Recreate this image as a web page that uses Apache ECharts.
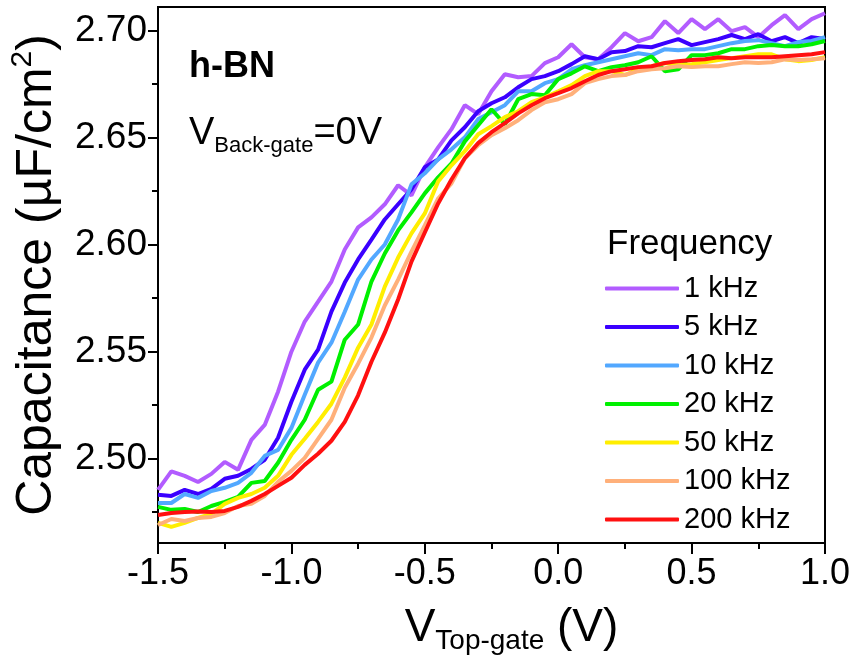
<!DOCTYPE html>
<html>
<head>
<meta charset="utf-8">
<script src="https://cdn.jsdelivr.net/npm/echarts@6/dist/echarts.min.js"></script>
<style>html,body{margin:0;padding:0;background:#fff}#chart{width:856px;height:671px}</style>
</head>
<body>
<div id="chart"></div>
<script>
// Top-gate voltage (V)
const vTop = [-1.5,-1.45,-1.4,-1.35,-1.3,-1.25,-1.2,-1.15,-1.1,-1.05,-1.0,-0.95,-0.9,-0.85,-0.8,-0.75,-0.7,-0.65,-0.6,-0.55,-0.5,-0.45,-0.4,-0.35,-0.3,-0.25,-0.2,-0.15,-0.1,-0.05,0,0.05,0.1,0.15,0.2,0.25,0.3,0.35,0.4,0.45,0.5,0.55,0.6,0.65,0.7,0.75,0.8,0.85,0.9,0.95,1.0];

// Capacitance (uF/cm2) per frequency
const c1k = [2.4853,2.494,2.4919,2.489,2.4928,2.4984,2.4947,2.5087,2.5157,2.5312,2.5499,2.5640,2.5733,2.5827,2.5977,2.6080,2.6127,2.6188,2.6277,2.6230,2.6361,2.6454,2.6539,2.6651,2.6609,2.6716,2.6796,2.6782,2.6787,2.6848,2.6875,2.6936,2.6875,2.6866,2.6922,2.6988,2.6950,2.6969,2.7044,2.6988,2.7053,2.7007,2.7053,2.6997,2.7016,2.6969,2.7025,2.7072,2.7007,2.7053,2.7081];
const c5k = [2.4830,2.4825,2.4853,2.4834,2.4858,2.4905,2.4919,2.4951,2.4994,2.5097,2.5265,2.5415,2.5509,2.5686,2.5822,2.5930,2.6023,2.6117,2.6188,2.6258,2.6361,2.6398,2.6487,2.6548,2.6623,2.6660,2.6688,2.6735,2.6773,2.6787,2.6810,2.6843,2.6880,2.6866,2.6899,2.6904,2.6927,2.6922,2.6941,2.6960,2.6932,2.6946,2.6960,2.6979,2.6960,2.6983,2.6950,2.6969,2.6941,2.6969,2.6960];
const c10k = [2.4792,2.4792,2.4834,2.4816,2.4848,2.4863,2.4886,2.4933,2.5012,2.5040,2.5143,2.5298,2.5448,2.5541,2.5686,2.5836,2.5930,2.6000,2.6117,2.6281,2.6333,2.6398,2.6445,2.6501,2.6586,2.6618,2.6651,2.6716,2.6716,2.6754,2.6773,2.6819,2.6838,2.6852,2.6866,2.6880,2.6894,2.6885,2.6913,2.6908,2.6913,2.6913,2.6927,2.6941,2.6951,2.6955,2.6941,2.6927,2.6946,2.6951,2.6969];
const c20k = [2.4774,2.4760,2.4764,2.4750,2.4778,2.4797,2.4820,2.4886,2.4895,2.4980,2.5087,2.5181,2.5321,2.5359,2.5555,2.5626,2.5827,2.5958,2.6066,2.6150,2.6239,2.6314,2.6379,2.6482,2.6557,2.6632,2.6562,2.6679,2.6703,2.6698,2.6773,2.6800,2.6833,2.6810,2.6829,2.6838,2.6852,2.6880,2.6810,2.6819,2.6885,2.6885,2.6894,2.6913,2.6913,2.6927,2.6932,2.6927,2.6927,2.6936,2.6951];
const c50k = [2.4699,2.4680,2.4699,2.4722,2.4741,2.4788,2.4816,2.4834,2.4863,2.4919,2.5017,2.5092,2.5171,2.5256,2.5378,2.5518,2.5626,2.5803,2.5939,2.6052,2.6145,2.6295,2.6370,2.6436,2.6515,2.6553,2.6595,2.6623,2.6665,2.6688,2.6716,2.6745,2.6787,2.6810,2.6810,2.6792,2.6819,2.6833,2.6848,2.6838,2.6843,2.6852,2.6862,2.6871,2.6880,2.6889,2.6889,2.6866,2.6857,2.6862,2.6875];
const c100k = [2.4689,2.4717,2.4708,2.4722,2.4727,2.4745,2.4778,2.4788,2.4825,2.4891,2.4942,2.5003,2.5092,2.5181,2.5331,2.5443,2.5565,2.5715,2.5836,2.5967,2.6089,2.6215,2.6286,2.6403,2.6464,2.6511,2.6543,2.6581,2.6628,2.6665,2.6679,2.6703,2.6754,2.6773,2.6787,2.6792,2.6810,2.6819,2.6824,2.6833,2.6829,2.6833,2.6833,2.6843,2.6852,2.6848,2.6852,2.6866,2.6862,2.6866,2.6871];
const c200k = [2.4736,2.4745,2.4750,2.4752,2.4750,2.4755,2.4774,2.4802,2.4834,2.4872,2.4910,2.4970,2.5022,2.5083,2.5171,2.5295,2.5452,2.5588,2.5743,2.5920,2.6056,2.6192,2.6304,2.6403,2.6474,2.6525,2.6567,2.6613,2.6651,2.6684,2.6707,2.6731,2.6763,2.6792,2.6810,2.6819,2.6829,2.6833,2.6848,2.6857,2.6862,2.6866,2.6875,2.6871,2.6875,2.6875,2.6875,2.6880,2.6885,2.6889,2.6899];

const seriesNames = ['1 kHz','5 kHz','10 kHz','20 kHz','50 kHz','100 kHz','200 kHz'];
const seriesValues = [c1k, c5k, c10k, c20k, c50k, c100k, c200k];
const seriesColors = ['#B25CFF','#3A00FF','#52A8FF','#00F000','#FFEE00','#FFB07A','#FF1010'];

const xTickInterval = 0.5;
const yTicks = [2.50, 2.55, 2.60, 2.65, 2.70];
const yMinorTicks = [2.475, 2.525, 2.575, 2.625, 2.675];

const FONT = "'Liberation Sans', Arial, sans-serif";
const chart = echarts.init(document.getElementById('chart'), null, {renderer: 'canvas'});

const series = seriesNames.map((name, k) => ({
  name: name,
  type: 'line',
  showSymbol: false,
  symbol: 'none',
  xAxisIndex: 0,
  yAxisIndex: 0,
  color: seriesColors[k],
  lineStyle: {width: 4, color: seriesColors[k]},
  emphasis: {disabled: true},
  data: vTop.map((v, i) => [v, seriesValues[k][i]])
}));

const option = {
  animation: false,
  backgroundColor: '#fff',
  textStyle: {fontFamily: FONT},
  grid: {left: 158, right: 31, top: 7, bottom: 128, show: true, borderColor: '#000', borderWidth: 2, containLabel: false, outerBoundsMode: 'none'},
  title: [
    {text: 'h-BN', left: 184, top: 44, textStyle: {fontSize: 36, fontWeight: 'bold', color: '#000', fontFamily: FONT}},
    {text: '{v|V}{s|Back-gate}{v|=0V}', left: 184, top: 110,
     textStyle: {fontWeight: 'normal', rich: {
       v: {fontSize: 38, lineHeight: 42, fontWeight: 'normal', verticalAlign: 'top', color: '#000', fontFamily: FONT},
       s: {fontSize: 22, lineHeight: 24, fontWeight: 'normal', padding: [26, 0, 0, 0], verticalAlign: 'bottom', color: '#000', fontFamily: FONT}
     }}},
    {text: 'Frequency', left: 602, top: 222, textStyle: {fontSize: 35, fontWeight: 'normal', color: '#000', fontFamily: FONT}}
  ],
  legend: {
    data: seriesNames,
    orient: 'vertical',
    left: 600,
    top: 269,
    itemWidth: 74,
    itemHeight: 4,
    itemGap: 9.5,
    icon: 'roundRect',
    selectedMode: false,
    textStyle: {fontSize: 29, color: '#000', fontFamily: FONT}
  },
  xAxis: {
    type: 'value', min: -1.5, max: 1.0, interval: xTickInterval,
    axisLine: {show: true, onZero: false, lineStyle: {color: '#000', width: 2}},
    axisTick: {show: true, inside: false, length: 11, lineStyle: {color: '#000', width: 2}},
    minorTick: {show: true, splitNumber: 2, length: 6, lineStyle: {color: '#000', width: 2}},
    axisLabel: {formatter: v => v.toFixed(1), fontSize: 36, color: '#000', margin: 13, fontFamily: FONT},
    splitLine: {show: false}, minorSplitLine: {show: false},
    name: '{v|V}{s|Top-gate}{v| (V)}', nameLocation: 'middle', nameGap: 58,
    nameTextStyle: {padding: [0, 0, 0, 40], rich: {
      v: {fontSize: 46, lineHeight: 50, verticalAlign: 'top', color: '#000', fontFamily: FONT},
      s: {fontSize: 28, lineHeight: 30, padding: [30, 0, 0, 0], verticalAlign: 'bottom', color: '#000', fontFamily: FONT}
    }}
  },
  yAxis: [
    {
      type: 'value', min: 2.4605, max: 2.711, position: 'left',
      axisLine: {show: true, onZero: false, lineStyle: {color: '#000', width: 2}},
      axisTick: {show: true, inside: false, length: 10, customValues: yTicks, lineStyle: {color: '#000', width: 2}},
      axisLabel: {customValues: yTicks, formatter: v => Number(v).toFixed(2), fontSize: 37, color: '#000', margin: 11, fontFamily: FONT},
      splitLine: {show: false},
      name: '{a|Capacitance (µF/cm}{s|2}{a|)}', nameLocation: 'middle', nameGap: 96,
      nameTextStyle: {rich: {
        a: {fontSize: 50, lineHeight: 54, verticalAlign: 'bottom', color: '#000', fontFamily: FONT},
        s: {fontSize: 30, lineHeight: 32, padding: [0, 0, 22, 0], verticalAlign: 'top', color: '#000', fontFamily: FONT}
      }}
    },
    {
      type: 'value', min: 2.4605, max: 2.711, position: 'left',
      axisLine: {show: false, onZero: false},
      axisTick: {show: true, inside: false, length: 6, customValues: yMinorTicks, lineStyle: {color: '#000', width: 2}},
      axisLabel: {show: false},
      splitLine: {show: false}
    }
  ],
  series: series
};
chart.setOption(option);
</script>
</body>
</html>
